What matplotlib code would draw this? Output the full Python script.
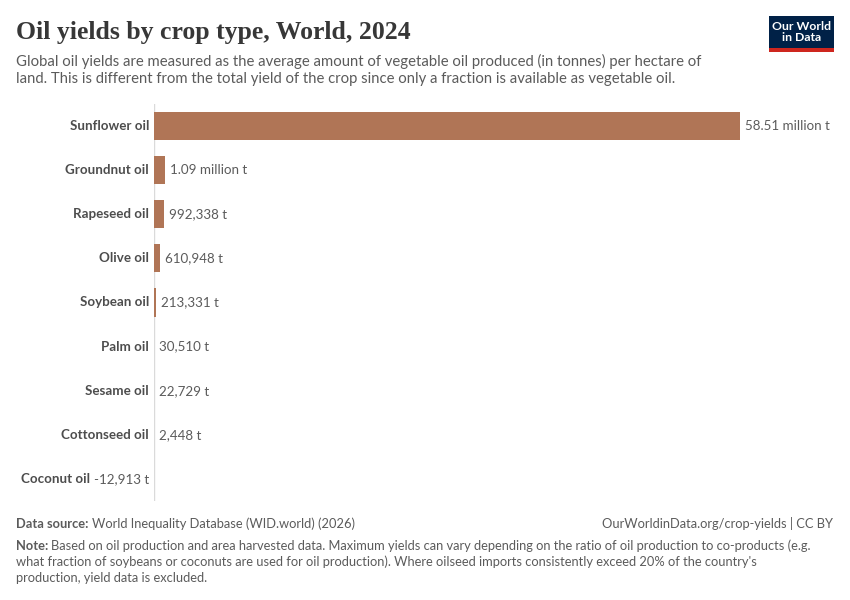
import matplotlib
matplotlib.use("Agg")
import matplotlib.pyplot as plt
from matplotlib.patches import Rectangle

crops = ["Sunflower oil", "Groundnut oil", "Rapeseed oil", "Olive oil", "Soybean oil",
         "Palm oil", "Sesame oil", "Cottonseed oil", "Coconut oil"]
yields = [58.51e6, 1.09e6, 992338, 610948, 213331, 30510, 22729, 2448, -12913]
labels = ["58.51 million t", "1.09 million t", "992,338 t", "610,948 t", "213,331 t",
          "30,510 t", "22,729 t", "2,448 t", "-12,913 t"]

W, H = 850, 600
fig = plt.figure(figsize=(8.5, 6), dpi=100)
fig.patch.set_facecolor("white")

def fx(px):
    return px / W

def fy(py):
    return 1 - py / H

bar_color = "#b07556"
text_gray = "#5b5b5b"
label_gray = "#4d4d4d"

# axes: zero at x=154, max value at x=740
ax = fig.add_axes([fx(154), fy(501), fx(740 - 154), (501 - 104) / H])
ax.set_xlim(0, max(yields))
ax.set_ylim(len(crops) - 0.5, -0.5)
ax.axis("off")
ax.axvline(0, color="#dadada", lw=1, zorder=0)

ypos = list(range(len(crops)))
ax.barh(ypos, yields, height=0.635, color=bar_color, clip_on=False, zorder=2)

fig.canvas.draw()
renderer = fig.canvas.get_renderer()

for i, (name, v, lab) in enumerate(zip(crops, yields, labels)):
    if v >= 0:
        ax.annotate(lab, (v, i), xytext=(3.6, 0), textcoords="offset points",
                    ha="left", va="center", fontsize=9.6, family="Lato", color=text_gray)
        ax.annotate(name, (0, i), xytext=(-3.6, 0), textcoords="offset points",
                    ha="right", va="center", fontsize=9.6, family="Lato",
                    fontweight="bold", color=label_gray)
    else:
        t = ax.annotate(lab, (0, i), xytext=(-3.6, 0), textcoords="offset points",
                        ha="right", va="center", fontsize=9.6, family="Lato", color=text_gray)
        w = t.get_window_extent(renderer).width * 72 / fig.dpi
        ax.annotate(name, (0, i), xytext=(-3.6 - w - 3, 0), textcoords="offset points",
                    ha="right", va="center", fontsize=9.6, family="Lato",
                    fontweight="bold", color=label_gray)

# title and subtitle
fig.text(fx(16), fy(33), "Oil yields by crop type, World, 2024", fontsize=18.5,
         family="Liberation Serif", fontweight="bold", color="#373737", va="center", ha="left")
sub = ["Global oil yields are measured as the average amount of vegetable oil produced (in tonnes) per hectare of",
       "land. This is different from the total yield of the crop since only a fraction is available as vegetable oil."]
fig.text(fx(16), fy(61), sub[0], fontsize=10.7, family="Lato", color=text_gray, va="center")
fig.text(fx(16), fy(79), sub[1], fontsize=10.7, family="Lato", color=text_gray, va="center")

# logo
fig.patches.append(Rectangle((fx(769), fy(52)), fx(65), 36 / H, transform=fig.transFigure,
                             facecolor="#002147", edgecolor="none"))
fig.patches.append(Rectangle((fx(769), fy(52)), fx(65), 4 / H, transform=fig.transFigure,
                             facecolor="#ce261e", edgecolor="none"))
fig.text(fx(801.5), fy(32), "Our World\nin Data", fontsize=8.8, family="Lato", color="white",
         ha="center", va="center", linespacing=1.0, fontweight="bold")

# footer
foot_size = 9.3
t1 = fig.text(fx(16), fy(524), "Data source:", fontsize=foot_size, family="Lato",
              fontweight="bold", color="#5b5b5b", va="center")
fig.canvas.draw()
w1 = t1.get_window_extent(renderer).width
fig.text(fx(16 + w1 + 3), fy(524), "World Inequality Database (WID.world) (2026)",
         fontsize=foot_size, family="Lato", color="#5b5b5b", va="center")
fig.text(fx(833), fy(524), "OurWorldinData.org/crop-yields | CC BY", fontsize=foot_size,
         family="Lato", color="#5b5b5b", va="center", ha="right")
t2 = fig.text(fx(16), fy(546), "Note:", fontsize=foot_size, family="Lato",
              fontweight="bold", color="#5b5b5b", va="center")
fig.canvas.draw()
w2 = t2.get_window_extent(renderer).width
fig.text(fx(16 + w2 + 3), fy(546),
         "Based on oil production and area harvested data. Maximum yields can vary depending on the ratio of oil production to co-products (e.g.",
         fontsize=foot_size, family="Lato", color="#5b5b5b", va="center")
fig.text(fx(16), fy(562),
         "what fraction of soybeans or coconuts are used for oil production). Where oilseed imports consistently exceed 20% of the country's",
         fontsize=foot_size, family="Lato", color="#5b5b5b", va="center")
fig.text(fx(16), fy(578), "production, yield data is excluded.",
         fontsize=foot_size, family="Lato", color="#5b5b5b", va="center")

fig.savefig("out.png", dpi=100, facecolor="white")
